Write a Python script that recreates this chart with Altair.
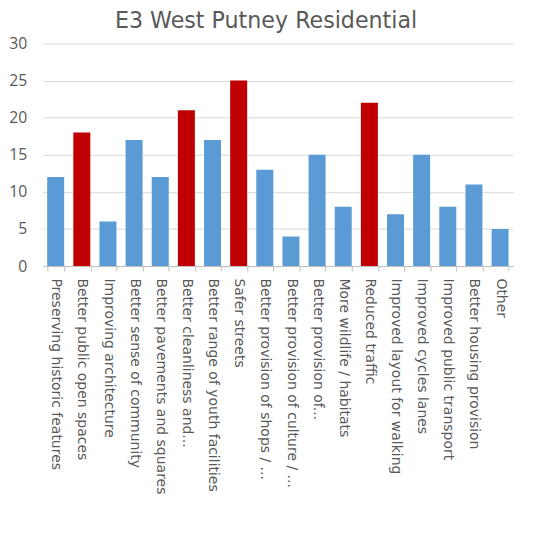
import altair as alt
import pandas as pd

categories = [
    "Preserving historic features",
    "Better public open spaces",
    "Improving architecture",
    "Better sense of community",
    "Better pavements and squares",
    "Better cleanliness and...",
    "Better range of youth facilities",
    "Safer streets",
    "Better provision of shops / ...",
    "Better provision of culture / ...",
    "Better provision of...",
    "More wildlife / habitats",
    "Reduced traffic",
    "Improved layout for walking",
    "Improved cycles lanes",
    "Improved public transport",
    "Better housing provision",
    "Other",
]
values = [12, 18, 6, 17, 12, 21, 17, 25, 13, 4, 15, 8, 22, 7, 15, 8, 11, 5]
highlight = [False, True, False, False, False, True, False, True, False, False,
             False, False, True, False, False, False, False, False]

df = pd.DataFrame({"category": categories, "value": values,
                   "group": ["top" if h else "other" for h in highlight]})

FONT = "DejaVu Sans"
GRAY = "#595959"

chart = alt.Chart(df).mark_bar().encode(
    x=alt.X("category:N", sort=categories, title=None,
            scale=alt.Scale(paddingInner=0.35, paddingOuter=0.18),
            axis=alt.Axis(labelAngle=90, labelAlign="left", labelBaseline="middle",
                          labelPadding=7, labelLimit=260, labelFontSize=14.2,
                          labelColor=GRAY, labelFont=FONT, tickBand="extent",
                          tickSize=5, tickColor="#BFBFBF", domainColor="#BFBFBF",
                          grid=False)),
    y=alt.Y("value:Q", title=None,
            scale=alt.Scale(domain=[0, 30]),
            axis=alt.Axis(values=[0, 5, 10, 15, 20, 25, 30], domain=False, ticks=False,
                          labelPadding=16, labelFontSize=16, labelColor=GRAY,
                          labelFont="Open Sans", gridColor="#D9D9D9")),
    color=alt.Color("group:N", legend=None,
                    scale=alt.Scale(domain=["other", "top"], range=["#5B9BD5", "#C00000"])),
).properties(
    width=478, height=226,
    title=alt.Title("E3 West Putney Residential", fontSize=22.5, font=FONT,
                    color=GRAY, fontWeight="normal", offset=3, dx=-12),
    autosize=alt.AutoSizeParams(type="none"),
    padding={"left": 35, "top": 32, "right": 19, "bottom": 270},
).configure_view(stroke=None)

chart.save("out.html", embed_options={"renderer": "svg", "actions": False})
